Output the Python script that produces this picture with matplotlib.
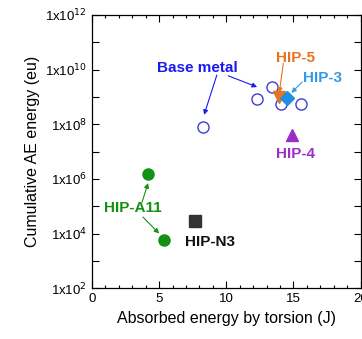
import numpy as np
import matplotlib.pyplot as plt
from matplotlib.ticker import FixedLocator, FuncFormatter, MultipleLocator

plt.rcParams['font.family'] = ['Liberation Sans', 'DejaVu Sans']

# absorbed energy (J) vs cumulative AE energy (eu)
base_x = [8.3, 12.3, 13.4, 14.1, 15.6]
base_y = [8.0e7, 8.5e8, 2.3e9, 5.5e8, 5.5e8]

hip5_x, hip5_y = [13.9], [1.0e9]
hip3_x, hip3_y = [14.5], [9.0e8]
hip4_x, hip4_y = [14.9], [4.2e7]
a11_x = [4.2, 5.4]
a11_y = [1.5e6, 6.0e3]
n3_x, n3_y = [7.7], [2.8e4]

y_decades = list(range(2, 13))


def sci_label(v, pos):
    e = int(round(np.log10(v)))
    if e % 2:
        return ''
    return r'1x10$^{%d}$' % e


fig = plt.figure(figsize=(3.62, 3.39), dpi=100)
ax = fig.add_axes([0.254, 0.150, 0.742, 0.806])

ax.plot(base_x, base_y, 'o', mfc='none', mec='#3d3dd6', mew=1.0, ms=8)
ax.plot(hip5_x, hip5_y, 'v', color='#e8731e', ms=8)
ax.plot(hip3_x, hip3_y, 'D', color='#1f90e0', ms=7)
ax.plot(hip4_x, hip4_y, '^', color='#9a2fc8', ms=8)
ax.plot(a11_x, a11_y, 'o', color='#139113', ms=8)
ax.plot(n3_x, n3_y, 's', color='#333333', ms=8)

ax.set_yscale('log')
ax.set_xlim(0, 20)
ax.set_ylim(1e2, 1e12)
ax.xaxis.set_major_locator(MultipleLocator(5))
ax.xaxis.set_minor_locator(MultipleLocator(1))
ax.yaxis.set_major_locator(FixedLocator([10.0 ** e for e in y_decades]))
ax.yaxis.set_major_formatter(FuncFormatter(sci_label))
ax.yaxis.set_minor_locator(FixedLocator([]))
ax.tick_params(which='both', direction='in', top=True, right=True,
               labelsize=9.5, width=0.8)
ax.tick_params(which='major', length=5)
ax.tick_params(which='minor', length=2.5)
for s in ax.spines.values():
    s.set_linewidth(0.9)

ax.set_xlabel('Absorbed energy by torsion (J)', fontsize=11.5)
ax.set_ylabel('Cumulative AE energy (eu)', fontsize=11.5)

bold = dict(fontweight='bold', fontsize=11, ha='center', va='center')
arrow = lambda c: dict(arrowstyle='-|>', color=c, lw=0.8, mutation_scale=7,
                       shrinkA=0, shrinkB=0)

ax.text(7.85, 1.15e10, 'Base metal', color='#1a1aee', **bold)
ax.annotate('', xy=(8.35, 2.2e8), xytext=(9.3, 6.3e9), arrowprops=arrow('#1a1aee'))
ax.annotate('', xy=(12.3, 2.3e9), xytext=(10.15, 5.9e9), arrowprops=arrow('#1a1aee'))

ax.text(15.15, 2.7e10, 'HIP-5', color='#e8731e', **bold)
ax.annotate('', xy=(13.95, 1.4e9), xytext=(14.25, 1.7e10), arrowprops=arrow('#e8731e'))

ax.text(17.2, 4.9e9, 'HIP-3', color='#2f9be8', **bold)
ax.annotate('', xy=(14.85, 1.4e9), xytext=(15.65, 3.5e9), arrowprops=arrow('#2f9be8'))

ax.text(15.15, 8.1e6, 'HIP-4', color='#9a2fc8', **bold)

ax.text(3.05, 8.5e4, 'HIP-A11', color='#139113', **bold)
ax.annotate('', xy=(4.18, 7.0e5), xytext=(3.73, 1.4e5), arrowprops=arrow('#139113'))
ax.annotate('', xy=(5.0, 1.0e4), xytext=(3.8, 4.0e4), arrowprops=arrow('#139113'))

ax.text(8.8, 4.8e3, 'HIP-N3', color='#111111', **bold)

fig.savefig('out.png', dpi=100)
